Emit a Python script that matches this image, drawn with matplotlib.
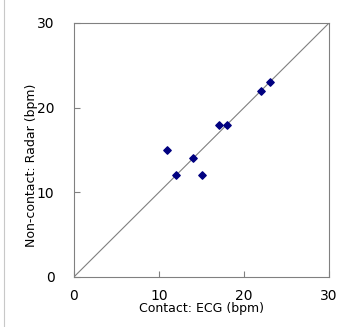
import numpy as np
from matplotlib import pyplot as plt
from matplotlib.lines import Line2D

ecg = [11, 12, 14, 15, 17, 18, 22, 23]
radar = [15, 12, 14, 12, 18, 18, 22, 23]
ticks = [0, 10, 20, 30]

fig = plt.figure(figsize=(3.39, 3.27), dpi=100)
ax = fig.add_axes([0.218, 0.153, 0.753, 0.777])

ax.plot([0, 30], [0, 30], c="#808080", lw=0.8, zorder=1)
ax.scatter(ecg, radar, marker="D", s=14, c="#000080", zorder=2)

ax.set_xlim(0, 30)
ax.set_ylim(0, 30)
ax.set_xticks(ticks)
ax.set_yticks(ticks)
for s in ax.spines.values():
    s.set_color("#808080")
    s.set_linewidth(0.8)
ax.tick_params(axis="both", direction="in", length=4, color="#808080",
               labelsize=10)
ax.tick_params(axis="x", pad=9)
ax.tick_params(axis="y", pad=14)

ax.set_xlabel("Contact: ECG (bpm)", fontsize=9, labelpad=-1)
ax.set_ylabel("Non-contact: Radar (bpm)", fontsize=9)
ax.yaxis.set_label_coords(-0.14, 0.44)

fig.add_artist(Line2D([0.013, 0.013], [0.0, 1.0], color="#c8c8c8", lw=0.8))

fig.savefig("out.png", dpi=100)
